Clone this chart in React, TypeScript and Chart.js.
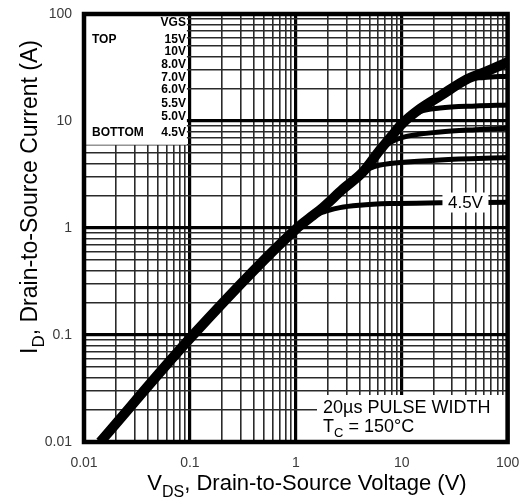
import { useEffect, useRef } from 'react';
import { Chart, registerables } from 'chart.js';

Chart.register(...registerables);

// ---- axis ticks ----
const xMajorTicks = [0.01, 0.1, 1, 10, 100];
const xTickLabels = ['0.01', '0.1', '1', '10', '100'];
const yMajorTicks = [0.01, 0.1, 1, 10, 100];
const yTickLabels = ['0.01', '0.1', '1', '10', '100'];
const minorMultipliers = [2, 3, 4, 5, 6, 7, 8, 9];

// ---- series (VDS in V, ID in A) ----
const vds15V = [0.0142, 0.107, 1.03, 1.45, 1.69, 2.79, 4.31, 6.24, 8, 10.06, 14.9, 23, 41, 60, 100];
const id15V = [0.01, 0.1, 1.0, 1.31, 1.47, 2.31, 3.34, 5.36, 7.2, 9.4, 13.0, 17.1, 24.5, 28.5, 35.5];

const vds10V = [0.0142, 0.107, 1.03, 1.45, 1.69, 2.79, 4.31, 6.24, 8, 10.06, 14.9, 23, 41, 60, 100];
const id10V = [0.01, 0.1, 1.0, 1.31, 1.47, 2.31, 3.34, 5.36, 7.2, 9.4, 13.0, 17.1, 24.5, 28.3, 34.5];

const vds8V = [0.0142, 0.107, 1.03, 1.45, 1.69, 2.79, 4.31, 6.24, 8, 10.06, 14.9, 23, 41, 60, 100];
const id8V = [0.01, 0.1, 1.0, 1.31, 1.47, 2.31, 3.34, 5.36, 7.2, 9.4, 13.0, 17.1, 24.4, 28.0, 33.5];

const vds7V = [0.0142, 0.107, 1.03, 1.45, 1.69, 2.79, 4.31, 6.24, 8, 10.06, 14.9, 23, 41, 60, 100];
const id7V = [0.01, 0.1, 1.0, 1.31, 1.47, 2.31, 3.34, 5.36, 7.2, 9.4, 13.0, 17.1, 24.2, 25.5, 26.2];

const vds6V = [0.0142, 0.107, 1.03, 1.45, 1.69, 2.79, 4.31, 6.24, 8, 10.06, 14.9, 23, 50, 100];
const id6V = [0.01, 0.1, 1.0, 1.31, 1.47, 2.31, 3.34, 5.36, 7.2, 9.4, 12.2, 13.2, 13.8, 14.1];

const vds55V = [0.0142, 0.107, 1.03, 1.45, 1.69, 2.79, 4.31, 6.24, 8, 10, 23, 50, 100];
const id55V = [0.01, 0.1, 1.0, 1.31, 1.47, 2.31, 3.34, 5.36, 6.4, 7.0, 7.9, 8.3, 8.55];

const vds5V = [0.0142, 0.107, 1.03, 1.45, 1.69, 2.79, 4.31, 5.5, 7.76, 23, 100];
const id5V = [0.01, 0.1, 1.0, 1.31, 1.47, 2.31, 3.34, 3.75, 4.0, 4.32, 4.55];

const vds45V = [0.0142, 0.107, 1.03, 1.45, 2.0, 2.61, 4, 7.76, 23, 100];
const id45V = [0.01, 0.1, 1.0, 1.29, 1.45, 1.55, 1.63, 1.69, 1.72, 1.74];

const seriesNames = ['15V', '10V', '8.0V', '7.0V', '6.0V', '5.5V', '5.0V', '4.5V'];
const seriesVds = [vds15V, vds10V, vds8V, vds7V, vds6V, vds55V, vds5V, vds45V];
const seriesId = [id15V, id10V, id8V, id7V, id6V, id55V, id5V, id45V];
const seriesWidths = [10, 5, 5, 5, 5, 5, 5, 5];

// ---- texts ----
const legendHeader = 'VGS';
const legendTopWord = 'TOP';
const legendBottomWord = 'BOTTOM';
const legendRowsY = [23, 40, 52, 65, 78, 90, 104, 117, 133];
const curveLabel = '4.5V';
const curveLabelVds = 40;
const curveLabelId = 1.73;
const noteLine1 = '20µs PULSE WIDTH';
const noteLine2: [string, string][] = [['T', ''], ['C', 'sub'], [' = 150°C', '']];
const xTitle: [string, string][] = [['V', ''], ['DS', 'sub'], [', Drain-to-Source Voltage (V)', '']];
const yTitle: [string, string][] = [['I', ''], ['D', 'sub'], [', Drain-to-Source Current (A)', '']];

const FONT = '"Liberation Sans", Arial, Helvetica, sans-serif';

function buildGrid(majors: number[]) {
  const out: any[] = [];
  majors.forEach((m, i) => {
    out.push({ value: m, major: true, labelIndex: i });
    if (i < majors.length - 1) {
      minorMultipliers.forEach((k) => out.push({ value: m * k, major: false }));
    }
  });
  return out;
}

function drawRich(
  ctx: CanvasRenderingContext2D,
  parts: [string, string][],
  x: number,
  y: number,
  size: number,
  align: 'left' | 'center'
) {
  const subSize = Math.round(size * 0.72);
  const widths = parts.map(([t, k]) => {
    ctx.font = `${k === 'sub' ? subSize : size}px ${FONT}`;
    return ctx.measureText(t).width;
  });
  const total = widths.reduce((a, b) => a + b, 0);
  let cx = align === 'center' ? x - total / 2 : x;
  ctx.textAlign = 'left';
  ctx.textBaseline = 'alphabetic';
  parts.forEach(([t, k], i) => {
    ctx.font = `${k === 'sub' ? subSize : size}px ${FONT}`;
    ctx.fillText(t, cx, k === 'sub' ? y + size * 0.3 : y);
    cx += widths[i];
  });
}

const overlayPlugin = {
  id: 'overlay',
  afterDraw(chart: any) {
    const ctx: CanvasRenderingContext2D = chart.ctx;
    const { left, right, top, bottom } = chart.chartArea;
    const xs = chart.scales.x;
    const ys = chart.scales.y;
    ctx.save();
    ctx.fillStyle = '#fff';
    // legend box (top-left)
    const legRight = xs.getPixelForValue(0.1) - 3;
    const legBottom = ys.getPixelForValue(6);
    ctx.fillRect(left, top, legRight - left, legBottom - top);
    // note box (bottom-right)
    ctx.fillRect(317, 395, right - 317, bottom - 395);
    // curve label box
    const lx = xs.getPixelForValue(curveLabelVds);
    const ly = ys.getPixelForValue(curveLabelId);
    ctx.fillRect(lx - 23, ly - 10, 46, 20);

    ctx.fillStyle = '#000';
    // legend texts
    ctx.font = `bold 12px ${FONT}`;
    ctx.textBaseline = 'middle';
    ctx.textAlign = 'right';
    const rows = [legendHeader, ...seriesNames];
    rows.forEach((r, i) => ctx.fillText(r, legRight - 1, legendRowsY[i]));
    ctx.textAlign = 'left';
    ctx.fillText(legendTopWord, 92, legendRowsY[1]);
    ctx.fillText(legendBottomWord, 92, legendRowsY[legendRowsY.length - 1]);

    // curve label
    ctx.font = `17px ${FONT}`;
    ctx.textAlign = 'center';
    ctx.fillText(curveLabel, lx, ly + 1);

    // note
    ctx.textAlign = 'left';
    ctx.textBaseline = 'alphabetic';
    ctx.font = `18px ${FONT}`;
    ctx.fillText(noteLine1, 323, 413);
    drawRich(ctx, noteLine2, 323, 432, 18, 'left');

    // frame
    ctx.strokeStyle = '#000';
    ctx.lineWidth = 4.5;
    ctx.strokeRect(left, top, right - left, bottom - top);

    // axis titles
    drawRich(ctx, xTitle, 307, 490, 22, 'center');
    ctx.save();
    ctx.translate(37, 197);
    ctx.rotate(-Math.PI / 2);
    drawRich(ctx, yTitle, 0, 0, 23, 'center');
    ctx.restore();
    ctx.restore();
  },
};

function makeAxis(majors: number[], labels: string[], isY: boolean) {
  return {
    type: 'logarithmic' as const,
    min: majors[0],
    max: majors[majors.length - 1],
    afterBuildTicks: (scale: any) => {
      scale.ticks = buildGrid(majors);
    },
    afterFit: (scale: any) => {
      if (isY) scale.width = 84;
      else scale.height = 60;
      scale.paddingLeft = 0;
      scale.paddingRight = 0;
      scale.paddingTop = 0;
      scale.paddingBottom = 0;
    },
    border: { display: false },
    grid: {
      drawTicks: false,
      color: (c: any) => (c.tick && c.tick.major ? '#000' : '#2a2a2a'),
      lineWidth: (c: any) => (c.tick && c.tick.major ? 3.2 : 1.6),
    },
    ticks: {
      autoSkip: false,
      maxRotation: 0,
      padding: isY ? 12 : 13,
      color: '#3a3a3a',
      font: { family: FONT, size: 14 },
      callback: (_v: any, i: number, ticks: any[]) =>
        ticks[i] && ticks[i].major ? labels[ticks[i].labelIndex] : '',
    },
  };
}

export default function App() {
  const ref = useRef<HTMLCanvasElement | null>(null);
  useEffect(() => {
    if (!ref.current) return;
    const chart = new Chart(ref.current, {
      type: 'scatter',
      data: {
        datasets: seriesNames.map((name, si) => ({
          label: name,
          data: seriesVds[si].map((v, i) => ({ x: v, y: seriesId[si][i] })),
          showLine: true,
          borderColor: '#000',
          backgroundColor: '#000',
          borderWidth: seriesWidths[si],
          pointRadius: 0,
          cubicInterpolationMode: 'monotone' as const,
          fill: false,
        })),
      },
      options: {
        animation: false,
        responsive: false,
        devicePixelRatio: 1,
        layout: { padding: { left: 0, right: 14.4, top: 14, bottom: 0 } },
        plugins: { legend: { display: false }, tooltip: { enabled: false } },
        scales: {
          x: makeAxis(xMajorTicks, xTickLabels, false),
          y: makeAxis(yMajorTicks, yTickLabels, true),
        },
      },
      plugins: [overlayPlugin],
    } as any);
    return () => chart.destroy();
  }, []);
  return (
    <div style={{ position: 'absolute', left: 0, top: 0, width: 522, height: 502, background: '#fff' }}>
      <canvas ref={ref} width={522} height={502} />
    </div>
  );
}
